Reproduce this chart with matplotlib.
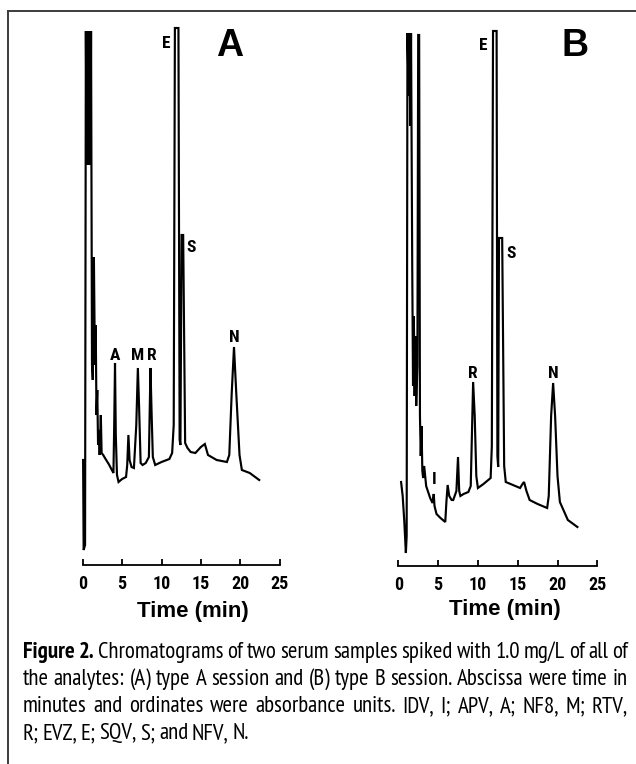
import matplotlib
matplotlib.use("Agg")
import matplotlib.pyplot as plt
from matplotlib.lines import Line2D

W, H, DPI = 636, 764, 100

# ---------------- data (time in min, absorbance in arbitrary units) -------------
time_a = [0.05, 0.12, 0.30, 0.40, 0.50, 0.58, 0.66, 0.74, 0.82, 0.90, 0.98, 1.06, 1.18,
          1.28, 1.42, 1.55, 1.65, 1.75, 1.85, 1.95, 2.05, 2.15, 2.30, 2.40, 2.60, 2.90,
          3.30, 3.70, 3.90, 4.00, 4.10, 4.20, 4.35, 4.55, 5.00, 5.50, 5.65, 5.80, 5.95,
          6.20, 6.50, 6.80, 7.00, 7.15, 7.35, 7.60, 8.00, 8.40, 8.60, 8.75, 8.90, 9.20,
          10.0, 11.0, 11.35, 11.55, 11.70, 11.90, 12.15, 12.30, 12.40, 12.55, 12.75, 13.00,
          13.30, 13.70, 14.30, 15.00, 15.50, 15.90, 17.00, 18.30, 18.60, 18.90, 19.20,
          19.50, 19.90, 20.20, 21.20, 22.40]
abs_a = [105, 15, 20, 534, 400, 534, 400, 534, 400, 534, 400, 534, 200,
         185, 308, 200, 240, 150, 175, 120, 135, 110, 150, 112, 110, 106,
         101, 95, 92, 140, 202, 130, 90, 83, 86, 88, 100, 130, 105,
         98, 97, 140, 197, 160, 102, 100, 102, 108, 197, 150, 108, 100,
         103, 106, 112, 140, 537, 537, 537, 125, 120, 330, 330, 122,
         117, 113, 112, 118, 121, 110, 105, 103, 110, 170, 218,
         170, 110, 95, 92, 85]

time_b = [0.35, 0.55, 0.75, 0.95, 1.05, 1.15, 1.30, 1.40, 1.50, 1.60, 1.75, 1.85, 1.95,
          2.05, 2.15, 2.25, 2.40, 2.50, 2.62, 2.72, 2.82, 2.92, 3.02, 3.12, 3.25, 3.50,
          4.00, 4.30, 4.45, 4.55, 4.80, 5.30, 5.90, 6.05, 6.20, 6.40, 6.70, 6.90, 7.30,
          7.50, 7.65, 7.80, 8.20, 8.80, 9.10, 9.40, 9.60, 9.80, 10.0, 10.7, 11.3, 11.6,
          11.75, 11.90, 12.35, 12.45, 12.55, 12.65, 13.05, 13.30, 13.50, 14.40, 15.30,
          15.60, 15.80, 16.10, 16.50, 17.50, 18.70, 18.90, 19.20, 19.45, 19.70, 20.00,
          20.30, 20.80, 21.30, 22.50]
abs_b = [84, 70, 45, 13, 30, 533, 470, 533, 440, 533, 300, 180, 250,
         170, 230, 160, 200, 531, 531, 150, 110, 140, 95, 88, 100, 80,
         68, 63, 72, 60, 52, 48, 44, 65, 81, 70, 66, 66, 75,
         109, 75, 70, 72, 74, 80, 184, 150, 90, 78, 82, 86, 88,
         120, 535, 535, 110, 99, 328, 328, 100, 84, 81, 78,
         82, 84, 75, 66, 62, 58, 70, 150, 183, 150, 90,
         64, 55, 46, 39]

peak_labels_a = ["E", "S", "A", "M", "R", "N"]
peak_labels_b = ["E", "S", "R", "N", "I"]
tick_values = [0, 5, 10, 15, 20, 25]
tick_labels = ["0", "5", "10", "15", "20", "25"]
panel_names = ["A", "B"]
x_label = "Time (min)"
caption_bold = "Figure 2."
caption_lines = [
    "Chromatograms of two serum samples spiked with 1.0 mg/L of all of",
    "the analytes: (A) type A session and (B) type B session. Abscissa were time in",
    "minutes and ordinates were absorbance units. IDV, I; APV, A; NF8, M; RTV,",
    "R; EVZ, E; SQV, S; and NFV, N.",
]

# ---------------- layout ----------------
label_pos_a = [(10.63, 521), (13.8, 317), (4.09, 210), (6.95, 209), (8.8, 209), (19.2, 228)]
label_pos_b = [(10.7, 521), (14.2, 312), (9.38, 192), (19.5, 192), (4.55, 87)]

COND = ["Roboto Condensed", "DejaVu Sans"]
CAPF = ["PT Sans Narrow", "DejaVu Sans"]
SANS = ["Liberation Sans", "DejaVu Sans"]

fig = plt.figure(figsize=(W / DPI, H / DPI), dpi=DPI)
fig.patch.set_facecolor("white")

# border lines (top and left)
fig.add_artist(Line2D([8 / W, 1.0], [1 - 11 / H, 1 - 11 / H], transform=fig.transFigure,
                      color="#3c3c3c", lw=1.4))
fig.add_artist(Line2D([8 / W, 8 / W], [1 - 11 / H, 0.0], transform=fig.transFigure,
                      color="#3c3c3c", lw=1.4))


def make_panel(left_px, ppm, base_py, t, a, labels, lpos, name, name_px, xlabel_px):
    x_left = left_px - ppm  # xlim starts at -1
    ax = fig.add_axes([x_left / W, (H - base_py) / H, 27 * ppm / W, 550 / H])
    ax.set_xlim(-1, 26)
    ax.set_ylim(0, 550)
    ax.plot(t, a, color="black", lw=1.55, solid_joinstyle="miter", clip_on=False)
    for s in ["left", "right", "top"]:
        ax.spines[s].set_visible(False)
    ax.spines["bottom"].set_bounds(0, 25)
    ax.spines["bottom"].set_linewidth(1.3)
    ax.set_yticks([])
    ax.set_xticks(tick_values)
    ax.set_xticklabels(tick_labels, family=COND, fontweight="bold", fontsize=13)
    ax.tick_params(axis="x", direction="in", length=4, width=1.3, pad=7)
    ax.patch.set_alpha(0)
    for lab, (lx, ly) in zip(labels, lpos):
        ax.text(lx, ly, lab, ha="center", va="center", family=COND,
                fontweight="bold", fontsize=12.5)
    fig.text(name_px[0] / W, 1 - name_px[1] / H, name, ha="center", va="center",
             family=SANS, fontweight="bold", fontsize=27)
    fig.text(xlabel_px[0] / W, 1 - xlabel_px[1] / H, x_label, ha="center", va="center",
             family=SANS, fontweight="bold", fontsize=16)
    return ax


make_panel(82.7, 7.88, 565, time_a, abs_a, peak_labels_a, label_pos_a,
           panel_names[0], (230, 46), (193, 611))
make_panel(398.3, 7.96, 566, time_b, abs_b, peak_labels_b, label_pos_b,
           panel_names[1], (575.5, 46), (505, 610))

# ---------------- caption (justified) ----------------
renderer = fig.canvas.get_renderer()
x0, x1 = 23, 628
baselines = [658, 685, 712, 739]


def build_words(i, line):
    segs = []
    if i == 0:
        segs += [(w, "bold") for w in caption_bold.split()]
    segs += [(w, "normal") for w in line.split()]
    return segs


SPACE = 0.16


def line_width(segs, size):
    tot = 0
    for w, wt in segs:
        t = fig.text(0, 0, w, fontsize=size, fontweight=wt, family=CAPF)
        tot += t.get_window_extent(renderer).width
        t.remove()
    return tot + (len(segs) - 1) * size * DPI / 72 * SPACE


all_segs = [build_words(i, l) for i, l in enumerate(caption_lines)]
ref = max(line_width(s, 10) for s in all_segs[:3])
cap_size = 10 * (x1 - x0 - 1) / ref

for i, segs in enumerate(all_segs):
    texts = [fig.text(0, 1 - baselines[i] / H, w, fontsize=cap_size, fontweight=wt,
                      family=CAPF, va="baseline", ha="left") for w, wt in segs]
    widths = [t.get_window_extent(renderer).width for t in texts]
    if i < 3:
        gap = (x1 - x0 - sum(widths)) / (len(texts) - 1)
    else:
        gap = cap_size * DPI / 72 * SPACE
    x = x0
    for t, w in zip(texts, widths):
        t.set_x(x / W)
        x += w + gap

fig.savefig("out.png", dpi=DPI, facecolor="white")
